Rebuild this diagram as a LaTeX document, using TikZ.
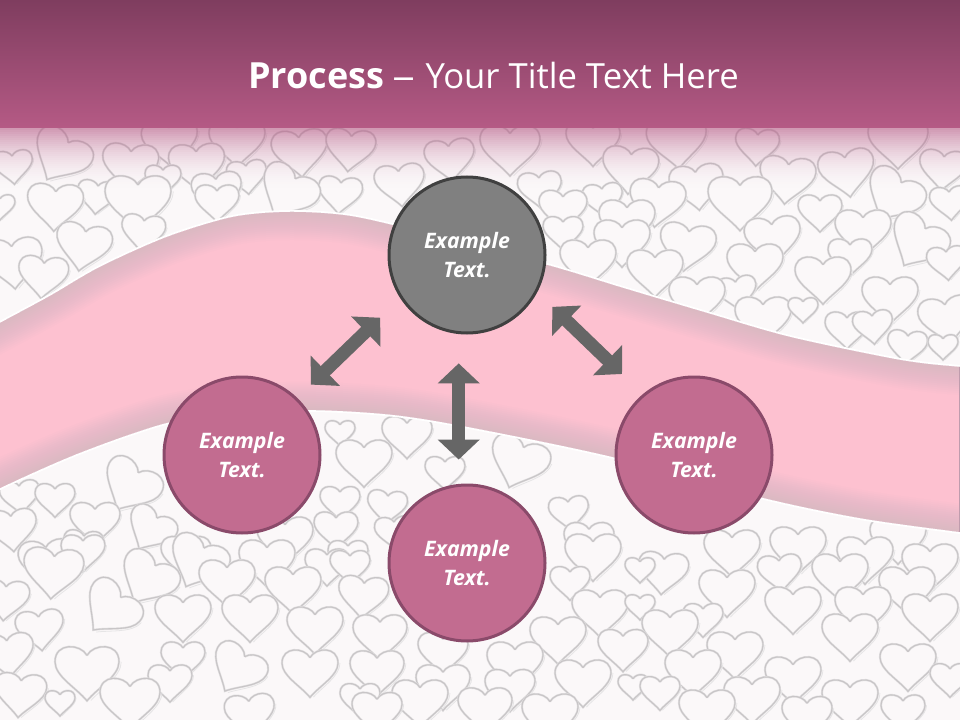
\documentclass[tikz,border=0pt]{standalone}
\usepackage{fontspec}
\setmainfont{Open Sans}
\usetikzlibrary{arrows.meta}
\definecolor{paperc}{HTML}{FBF8F9}
\definecolor{heartc}{HTML}{C8C5C7}
\definecolor{bandc}{HTML}{FDC1D0}
\definecolor{bandedgec}{HTML}{A5B9B9}
\definecolor{headtopc}{HTML}{7F3D5F}
\definecolor{headlowc}{HTML}{B55A85}
\definecolor{rosec}{HTML}{C26C90}
\definecolor{roselinec}{HTML}{8A4A6A}
\definecolor{arrowc}{HTML}{666666}
\newcommand{\bandtop}{plot[smooth] coordinates {(-50,350) (0,323) (50,296) (100,267) (167,237) (233,217) (290,212) (350,216) (420,232) (547,265) (623,288) (707,313) (790,337) (900,360) (960,367) (1010,370)}}
\newcommand{\bandlow}{plot[smooth] coordinates {(1010,538) (960,532) (860,518) (760,497) (613,457) (474,428) (395,415) (316,410) (240,412) (166,423) (79,453) (0,488) (-50,515)}}
\newcommand{\bandshape}{plot[smooth] coordinates {(-50,350) (0,323) (50,296) (100,267) (167,237) (233,217) (290,212) (350,216) (420,232) (547,265) (623,288) (707,313) (790,337) (900,360) (960,367) (1010,370)} -- plot[smooth] coordinates {(1010,538) (960,532) (860,518) (760,497) (613,457) (474,428) (395,415) (316,410) (240,412) (166,423) (79,453) (0,488) (-50,515)} -- cycle}
\tikzset{
  heartpic/.pic={
    \draw[heartc!45,line width=.6pt] (1.07,-.35) .. controls (1.07,.1) and (.45,.5) .. (.12,.86);
    \draw[heartc!55,line width=1.6pt,fill=paperc] (0,-.55) .. controls (.2,-.92) and (1,-.97) .. (1,-.35) .. controls (1,.1) and (.35,.45) .. (0,.87) .. controls (-.35,.45) and (-1,.1) .. (-1,-.35) .. controls (-1,-.97) and (-.2,-.92) .. (0,-.55);
    \draw[heartc,line width=.8pt] (0,-.55) .. controls (.2,-.92) and (1,-.97) .. (1,-.35) .. controls (1,.1) and (.35,.45) .. (0,.87) .. controls (-.35,.45) and (-1,.1) .. (-1,-.35) .. controls (-1,-.97) and (-.2,-.92) .. (0,-.55);
  },
  bubble/.style={circle,minimum size=117pt,inner sep=0pt,line width=2.25pt,text=white,align=center,
    font=\fontsize{16}{21.75}\selectfont\bfseries\itshape},
  rosebubble/.style={bubble,fill=rosec,draw=roselinec},
  graybubble/.style={bubble,fill=black!50,draw=black!75},
  bigarrow/.style={arrowc,line width=9.75pt,
    arrows={Triangle[length=15pt,width=30.75pt]-Triangle[length=15pt,width=30.75pt]}},
}
\begin{document}
\begin{tikzpicture}[x=.75pt,y=-.75pt]
\useasboundingbox (0,0) rectangle (960,720);
\clip (0,0) rectangle (960,720);
\fill[paperc] (0,0) rectangle (960,720);
% hearts, upper part
\foreach \hx/\hy/\hs/\hr in {
  13/167/20/5, 60/157/30/-30, 170/143/28/4, 237/143/28/0, 300/153/28/5, 350/150/25/-6, 450/160/25/6, 510/150/30/0, 593/143/27/0, 677/143/30/4, 757/147/22/-4, 898/143/30/0, 847/173/28/8, 943/170/24/-5,
  130/167/28/-4, 197/167/28/3, 163/180/18/0, 247/177/20/6, 340/195/22/-5, 400/185/25/6, 480/200/20/-6, 540/190/22/5, 630/170/28/-5, 697/187/27/6, 787/180/28/-6,
  97/197/20/-6, 217/193/25/5, 287/193/30/-30, 217/203/22/0, 893/197/30/-30, 950/203/20/5, 603/200/20/6, 563/210/24/0, 657/203/28/-6, 740/203/32/0, 820/213/22/0,
  0/207/15/0, 55/207/28/-3, 138/203/33/0, 143/233/22/-6, 13/263/30/5, 83/247/28/-10, 43/277/25/-5,
  627/223/28/0, 563/233/20/0, 622/243/28/0, 863/233/28/0, 773/240/28/5, 917/243/30/-30, 850/257/22/0, 947/263/20/5, 687/247/28/-8, 755/267/28/0, 823/280/28/0, 588/263/28/0, 655/273/28/0, 737/293/20/8, 697/300/28/0, 890/300/28/0, 763/320/28/0, 803/310/15/0, 847/330/22/0, 947/320/28/8, 873/327/20/5, 907/347/20/-5, 943/347/15/0
}{
  \pic[scale=\hs,rotate=\hr] at (\hx,\hy) {heartpic};
}
% hearts, lower part
\foreach \hx/\hy/\hs/\hr in {
  340/433/15/0, 518/463/30/-20, 407/437/25/0, 364/463/28/0, 445/473/20/0, 340/503/20/0, 387/507/20/-5, 569/513/20/5, 20/497/20/5, 55/500/20/0, 130/487/30/-30, 12/530/25/5, 150/530/25/-30, 95/523/25/0, 336/530/22/0, 395/533/20/5, 589/543/25/0, 83/547/20/-5, 285/540/28/0, 186/557/25/0, 348/557/20/0,
  47/563/28/5, 83/553/22/0, 197/563/30/-25, 267/563/28/0, 327/567/22/0, 350/567/20/0, 593/557/28/0, 732/553/28/0, 798/550/28/0, 898/540/28/0, 865/560/28/0, 930/567/28/0, 663/573/25/-5, 640/570/15/0,
  5/600/24/-5, 53/573/30/-5, 147/580/30/-30, 227/583/28/0, 293/590/28/0, 570/583/20/0, 363/597/25/-5, 780/573/22/5, 840/577/28/0, 907/590/28/0, 727/593/28/0,
  600/613/28/0, 640/607/15/0, 793/610/28/0, 863/610/28/0, 930/617/28/0, 703/620/20/0, 40/630/24/6, 110/610/30/-40, 183/618/28/0, 250/618/28/0, 315/630/28/0, 558/640/28/0, 670/633/28/0, 850/637/28/0, 623/650/25/0, 380/637/27/0, 443/653/25/0,
  8/655/26/5, 183/660/22/0, 735/655/28/0, 908/667/28/0, 515/665/28/0, 87/673/32/0, 237/670/28/-30, 310/673/28/0, 377/673/27/0, 693/673/28/0, 793/680/28/0, 950/680/20/0, 170/683/22/0, 583/683/28/0, 443/687/27/0, 510/690/25/0, 633/687/15/0, 660/693/20/0,
  20/695/26/-5, 60/703/15/0, 130/703/30/0, 360/700/20/0, 420/703/28/0, 752/700/28/0, 850/703/28/0, 485/710/27/0, 377/713/25/0, 550/717/28/0, 707/713/28/0, 903/713/22/0, 807/717/25/0, 250/715/25/5
}{
  \pic[scale=\hs,rotate=\hr] at (\hx,\hy) {heartpic};
}
% header
\shade[top color=headtopc,bottom color=headlowc] (0,0) rectangle (960,128);
\foreach \i in {0,...,30}{
  \fill[headlowc,opacity={0.6*(1-\i/31)^2}] (0,128+2*\i) rectangle (960,130+2*\i);
}
% band
\draw[white,line width=3pt] \bandtop;
\draw[white,line width=3pt] \bandlow;
\fill[bandc] \bandshape;
\begin{scope}
  \clip \bandshape;
  \foreach \w in {4,8,...,56}{
    \draw[bandedgec,line width=\w*.75pt,opacity=.028] \bandtop;
    \draw[bandedgec,line width=\w*.75pt,opacity=.028] \bandlow;
  }
\end{scope}
\draw[roselinec!55,line width=.5pt] (959.5,367) -- (959.5,532);
% title
\node[text=white,font=\fontsize{26}{32}\selectfont,anchor=west,inner sep=0pt] (title) at (248,76) {{\fontsize{27}{32}\selectfont\bfseries Process}\hspace{6pt}\scalebox{1.3}[1]{--}\hspace{8pt}Your Title Text Here};
% bubbles
\node[graybubble] (top) at (467,255) {Example\\Text.};
\node[rosebubble] (left) at (242,455) {Example\\Text.};
\node[rosebubble] (right) at (694,455) {Example\\Text.};
\node[rosebubble] (bottom) at (467,563) {Example\\Text.};
% arrows
\draw[bigarrow,shorten <=21pt,shorten >=14.25pt] (top.213) -- (left.46);
\draw[bigarrow,shorten <=15.75pt,shorten >=21.75pt] (top.332) -- (right.130);
\draw[bigarrow,shorten <=22pt,shorten >=18.3pt] (top.264) -- (bottom.96);
\end{tikzpicture}
\end{document}
